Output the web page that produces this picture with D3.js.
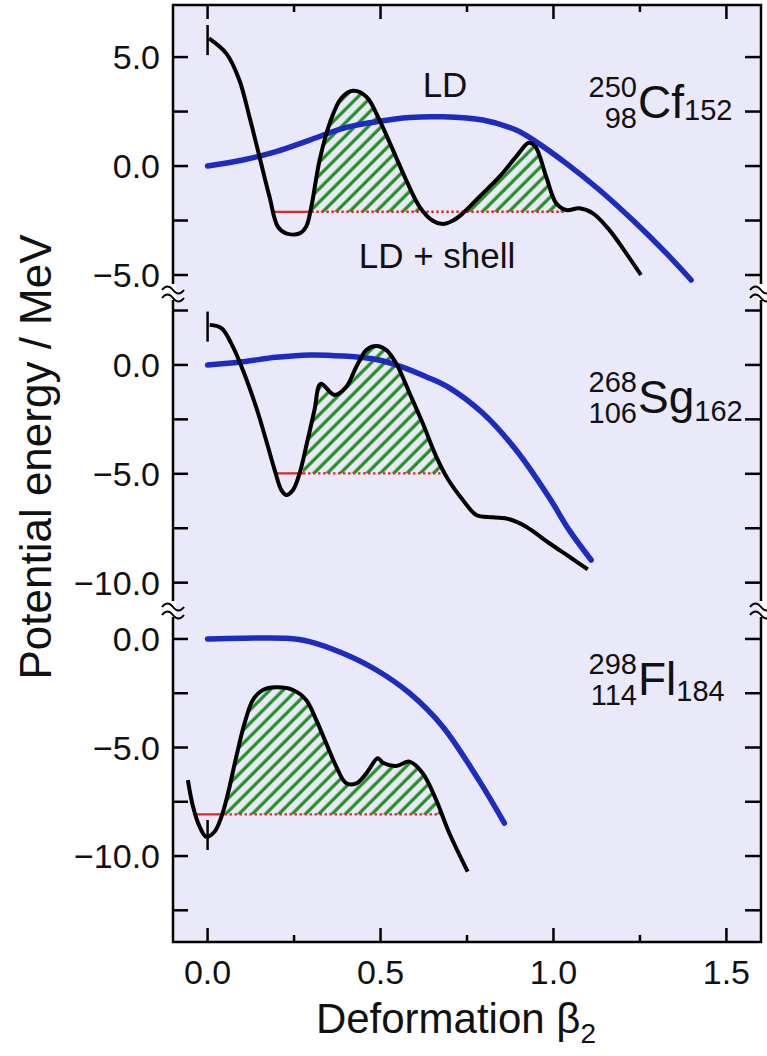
<!DOCTYPE html>
<html><head><meta charset="utf-8">
<script src="https://cdn.jsdelivr.net/npm/d3@7"></script>
<style>
body{margin:0;background:#fff}
svg{display:block}
text{font-family:"Liberation Sans",Arial,Helvetica,sans-serif;fill:#111}
</style>
</head><body>
<svg id="chart" width="767" height="1056"></svg>
<script>
// ---------------- data ----------------
const betaMajorTicks = [0, 0.5, 1.0, 1.5];
const betaMinorTicks = [0.25, 0.75, 1.25];
const betaTickLabels = ["0.0", "0.5", "1.0", "1.5"];

// energy ticks (MeV) per panel
const cfTicks = [5, 2.5, 0, -2.5, -5];
const sgTicks = [2.5, 0, -2.5, -5, -7.5, -10];
const flTicks = [0, -2.5, -5, -7.5, -10, -12.5];
const cfTickLabels = [5, 0, -5];
const sgTickLabels = [0, -5, -10];
const flTickLabels = [0, -5, -10];

// 250Cf : LD + shell (black) and LD (blue), [beta, E]
const cfShell = [[0.004,5.86],[0.054,5.17],[0.092,3.94],[0.121,2.26],[0.150,0.43],[0.179,-1.41],
  [0.203,-2.78],[0.227,-3.09],[0.266,-3.09],[0.285,-2.78],[0.300,-1.86],[0.324,0.28],[0.353,1.96],
  [0.386,3.10],[0.420,3.45],[0.459,3.18],[0.497,2.11],[0.536,0.73],[0.574,-0.64],[0.613,-1.87],
  [0.651,-2.51],[0.680,-2.66],[0.710,-2.50],[0.738,-2.17],[0.786,-1.41],[0.844,-0.49],[0.892,0.43],
  [0.929,1.07],[0.948,0.89],[0.979,-0.49],[1.008,-1.71],[1.037,-2.02],[1.075,-1.94],[1.114,-2.17],
  [1.162,-2.94],[1.210,-4.00],[1.253,-5.00]];
const cfLD = [[0.0,0.0],[0.102,0.28],[0.198,0.66],[0.295,1.19],[0.391,1.73],[0.488,2.03],[0.584,2.23],
  [0.680,2.26],[0.796,2.11],[0.892,1.65],[0.950,1.11],[1.037,0.12],[1.133,-1.10],[1.229,-2.48],
  [1.326,-4.00],[1.398,-5.23]];

// 268Sg
const sgShell = [[0.006,1.84],[0.040,1.69],[0.068,1.00],[0.102,-0.23],[0.140,-1.92],[0.169,-3.45],
  [0.194,-4.83],[0.213,-5.74],[0.227,-5.97],[0.247,-5.74],[0.266,-4.98],[0.285,-3.75],[0.309,-2.07],
  [0.327,-0.87],[0.367,-1.38],[0.401,-1.00],[0.430,-0.08],[0.459,0.69],[0.488,0.87],[0.516,0.69],
  [0.545,0.08],[0.584,-1.30],[0.622,-2.68],[0.661,-4.21],[0.695,-5.25],[0.738,-6.20],[0.777,-6.89],
  [0.825,-7.00],[0.873,-7.09],[0.921,-7.43],[0.988,-8.19],[1.046,-8.81],[1.099,-9.39]];
const sgLD = [[0.0,0.0],[0.102,0.15],[0.198,0.35],[0.295,0.46],[0.391,0.41],[0.488,0.25],[0.555,-0.05],
  [0.632,-0.54],[0.699,-1.05],[0.796,-2.22],[0.892,-3.91],[0.988,-6.10],[1.046,-7.60],[1.109,-8.96]];

// 298Fl
const flShell = [[-0.057,-6.50],[-0.042,-7.73],[-0.023,-8.65],[-0.004,-9.11],[0.020,-8.88],[0.040,-8.19],
  [0.059,-7.11],[0.083,-5.42],[0.107,-3.88],[0.131,-2.81],[0.160,-2.35],[0.198,-2.23],[0.247,-2.35],
  [0.285,-2.81],[0.314,-3.73],[0.343,-4.81],[0.372,-5.88],[0.401,-6.65],[0.430,-6.65],[0.459,-6.19],
  [0.492,-5.50],[0.507,-5.70],[0.545,-5.85],[0.584,-5.65],[0.622,-6.19],[0.661,-7.42],[0.699,-8.95],
  [0.752,-10.72]];
const flLD = [[0.0,0.0],[0.102,0.03],[0.227,0.03],[0.295,-0.12],[0.391,-0.66],[0.488,-1.43],
  [0.584,-2.50],[0.680,-4.04],[0.786,-6.55],[0.858,-8.48]];

// zero-point level: [E, solid start, solid end (= hatch start), hatch end]
const cfLevel = [-2.1, 0.189, 0.300, 1.036];
const sgLevel = [-4.98, 0.194, 0.276, 0.675];
const flLevel = [-8.08, -0.033, 0.049, 0.675];

// ground-state markers at beta = 0 : [E top, E bottom]
const cfMarker = [6.47, 5.09];
const sgMarker = [2.45, 1.07];
const flMarker = [-8.34, -9.72];

// nucleus labels
const massNumbers = ["250", "268", "298"];
const protonNumbers = ["98", "106", "114"];
const symbols = ["Cf", "Sg", "Fl"];
const neutronNumbers = ["152", "162", "184"];

// ---------------- layout ----------------
const svg = d3.select("#chart");
const L = 173, R = 761, T = 5, B = 942;
const x = d3.scaleLinear().domain([-0.1, 1.6]).range([L, R]);

const panels = [
  {shell: cfShell, ld: cfLD, ticks: cfTicks, labels: cfTickLabels, level: cfLevel, marker: cfMarker,
   y: d3.scaleLinear().domain([7.39, -5.78]).range([T, 292]), labelE: 2.2, nSub: 2},
  {shell: sgShell, ld: sgLD, ticks: sgTicks, labels: sgTickLabels, level: sgLevel, marker: sgMarker,
   y: d3.scaleLinear().domain([3.35, -11.21]).range([292, 609]), labelE: -2.2, nSub: 8},
  {shell: flShell, ld: flLD, ticks: flTicks, labels: flTickLabels, level: flLevel, marker: flMarker,
   y: d3.scaleLinear().domain([1.38, -13.96]).range([609, B]), labelE: -2.6, nSub: 6}
];

// background
svg.append("rect").attr("x", L).attr("y", T).attr("width", R - L).attr("height", B - T)
  .attr("fill", "#e9e9f9");

// hatch pattern
const defs = svg.append("defs");
const pat = defs.append("pattern").attr("id", "hatch").attr("patternUnits", "userSpaceOnUse")
  .attr("width", 9.4).attr("height", 9.4).attr("patternTransform", "rotate(45)");
pat.append("line").attr("x1", 2).attr("y1", -1).attr("x2", 2).attr("y2", 11)
  .attr("stroke", "#1f8f1f").attr("stroke-width", 3.2);

const curve = d3.curveCatmullRom.alpha(0.5);

panels.forEach((p, i) => {
  const y = p.y;
  const line = d3.line().x(d => x(d[0])).y(d => y(d[1])).curve(curve);
  const [lev, s0, h0, h1] = p.level;

  // clip: region below the shell curve
  const below = d3.area().x(d => x(d[0])).y0(y.range()[1] + 50).y1(d => y(d[1])).curve(curve);
  defs.append("clipPath").attr("id", "clip" + i).append("path").attr("d", below(p.shell));
  svg.append("rect").attr("clip-path", `url(#clip${i})`)
    .attr("x", x(h0)).attr("width", x(h1) - x(h0))
    .attr("y", y.range()[0]).attr("height", y(lev) - y.range()[0])
    .attr("fill", "url(#hatch)");

  // red level lines
  svg.append("line").attr("x1", x(s0)).attr("x2", x(h0)).attr("y1", y(lev)).attr("y2", y(lev))
    .attr("stroke", "#e02525").attr("stroke-width", 2.2);
  svg.append("line").attr("x1", x(h0)).attr("x2", x(h1)).attr("y1", y(lev)).attr("y2", y(lev))
    .attr("stroke", "#e02525").attr("stroke-width", 2.4).attr("stroke-dasharray", "2.4,2.6");

  // LD curve
  svg.append("path").attr("d", line(p.ld)).attr("fill", "none")
    .attr("stroke", "#1c2cc0").attr("stroke-width", 5.5).attr("stroke-linecap", "round");
  // LD + shell curve
  svg.append("path").attr("d", line(p.shell)).attr("fill", "none")
    .attr("stroke", "#000").attr("stroke-width", 4).attr("stroke-linejoin", "round");

  // ground state marker
  svg.append("line").attr("x1", x(0)).attr("x2", x(0)).attr("y1", y(p.marker[0])).attr("y2", y(p.marker[1]))
    .attr("stroke", "#000").attr("stroke-width", 2.5);

  // left & right ticks
  p.ticks.forEach(t => {
    svg.append("line").attr("x1", L).attr("x2", L + 15).attr("y1", y(t)).attr("y2", y(t))
      .attr("stroke", "#000").attr("stroke-width", 2.5);
    svg.append("line").attr("x1", R - 16).attr("x2", R).attr("y1", y(t)).attr("y2", y(t))
      .attr("stroke", "#000").attr("stroke-width", 2.5);
  });
  p.labels.forEach(t => {
    svg.append("text").attr("x", 160).attr("y", y(t)).attr("dy", "0.36em")
      .attr("text-anchor", "end").attr("font-size", 34)
      .text((t < 0 ? "\u2212" : "") + Math.abs(t).toFixed(1));
  });

  // nucleus label
  const by = y(p.labelE);
  svg.append("text").attr("x", 637).attr("y", by - 21).attr("text-anchor", "end")
    .attr("font-size", 29).text(massNumbers[i]);
  svg.append("text").attr("x", 637).attr("y", by + 10).attr("text-anchor", "end")
    .attr("font-size", 29).text(protonNumbers[i]);
  const st = svg.append("text").attr("x", 638).attr("y", by).attr("font-size", 46);
  st.append("tspan").text(symbols[i]);
  st.append("tspan").attr("font-size", 29).attr("dy", p.nSub).text(neutronNumbers[i]);
});

// frame
svg.append("rect").attr("x", L).attr("y", T).attr("width", R - L).attr("height", B - T)
  .attr("fill", "none").attr("stroke", "#000").attr("stroke-width", 2.5);

// x ticks top & bottom
betaMajorTicks.forEach((b, k) => {
  svg.append("line").attr("x1", x(b)).attr("x2", x(b)).attr("y1", T).attr("y2", T + 14)
    .attr("stroke", "#000").attr("stroke-width", 2.5);
  svg.append("line").attr("x1", x(b)).attr("x2", x(b)).attr("y1", B).attr("y2", B - 14)
    .attr("stroke", "#000").attr("stroke-width", 2.5);
  svg.append("text").attr("x", x(b)).attr("y", 984).attr("text-anchor", "middle")
    .attr("font-size", 34).text(betaTickLabels[k]);
});
betaMinorTicks.forEach(b => {
  svg.append("line").attr("x1", x(b)).attr("x2", x(b)).attr("y1", T).attr("y2", T + 7)
    .attr("stroke", "#000").attr("stroke-width", 2.5);
  svg.append("line").attr("x1", x(b)).attr("x2", x(b)).attr("y1", B).attr("y2", B - 7)
    .attr("stroke", "#000").attr("stroke-width", 2.5);
});

// axis breaks
[panels[0].y.range()[1], panels[1].y.range()[1]].forEach(by => {
  [L, R].forEach(ax => {
    svg.append("rect").attr("x", ax - 3).attr("y", by - 8).attr("width", 6).attr("height", 16).attr("fill", "#fff");
    [-4, 4].forEach(off => {
      svg.append("path")
        .attr("d", `M${ax - 11},${by + off + 2} q5.5,-7 11,0 t11,0`)
        .attr("fill", "none").attr("stroke", "#000").attr("stroke-width", 2);
    });
  });
});

// curve labels
svg.append("text").attr("x", 445).attr("y", 97).attr("text-anchor", "middle").attr("font-size", 35).text("LD");
svg.append("text").attr("x", 437).attr("y", 268).attr("text-anchor", "middle").attr("font-size", 35).text("LD + shell");

// axis titles
const xt = svg.append("text").attr("x", 456).attr("y", 1033).attr("text-anchor", "middle").attr("font-size", 42);
xt.append("tspan").text("Deformation \u03b2");
xt.append("tspan").attr("font-size", 28).attr("dy", 10).text("2");

svg.append("text").attr("transform", "translate(51,457) rotate(-90)").attr("text-anchor", "middle")
  .attr("font-size", 44).text("Potential energy / MeV");
</script>
</body></html>
